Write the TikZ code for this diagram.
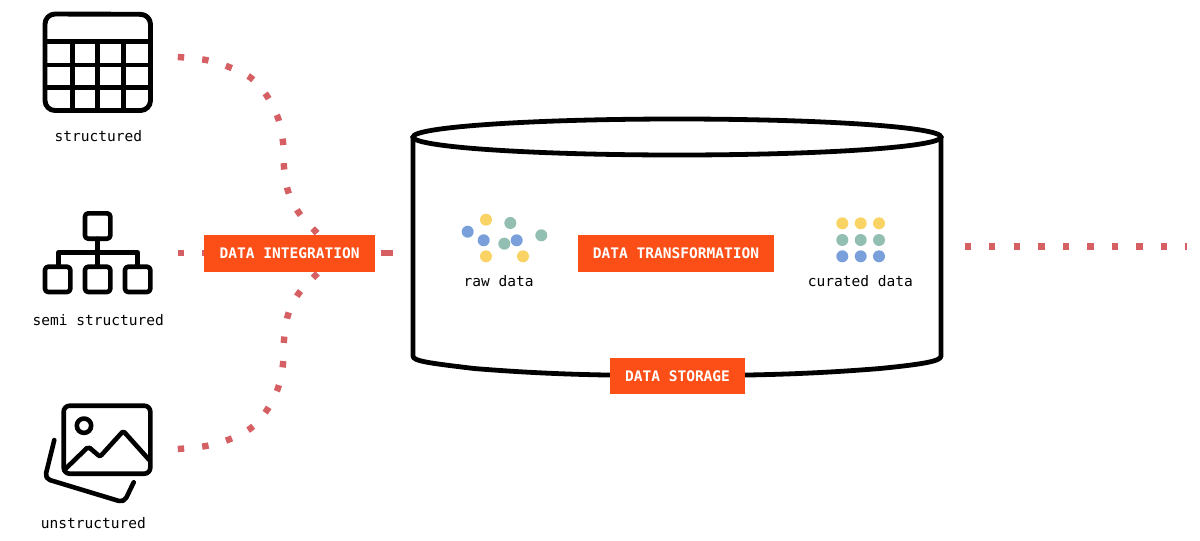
\documentclass[tikz,border=0pt]{standalone}
\usepackage{fontspec}
\setmainfont{DejaVu Sans Mono}
\definecolor{orangebox}{HTML}{FC4F17}
\definecolor{dotred}{HTML}{D65F63}
\definecolor{dyellow}{HTML}{F9D465}
\definecolor{dgreen}{HTML}{93BFB2}
\definecolor{dblue}{HTML}{7AA0DB}
\tikzset{
  x=0.75pt,y=-0.75pt,
  px/.style={line width=#1*0.75pt},
  icon/.style={draw=black,px=4.6,line cap=round,line join=round},
  grid/.style={draw=black,px=4.6,line cap=butt},
  tablelabel/.style={font=\fontsize{10.9pt}{12pt}\selectfont,text=black,inner sep=0pt,anchor=center},
  tag/.style={fill=orangebox,text=white,font=\fontsize{10.9pt}{12pt}\selectfont\bfseries,inner sep=0pt,anchor=center,minimum height=27.4pt},
  dotline/.style={draw=dotred,px=6.4,dash pattern=on 4.8pt off 13.6pt},
  dy/.style={fill=dyellow,draw=none},
  dg/.style={fill=dgreen,draw=none},
  db/.style={fill=dblue,draw=none},
}
\begin{document}
\begin{tikzpicture}
\useasboundingbox (0,0) rectangle (1200,540);
\fill[white] (0,0) rectangle (1200,540);
% connector ends
\coordinate (s1) at (177.8,57);
\coordinate (s2) at (177.8,253);
\coordinate (s3) at (177.8,449);
\coordinate (hubT) at (318,234);
\coordinate (hubB) at (318,273);
\coordinate (hub) at (290,253);
\coordinate (hubR) at (381,253);
\coordinate (cyl) at (393,253);
\coordinate (out) at (964.5,246.3);
\coordinate (end) at (1187,246.3);
% connectors
\draw[dotline] plot[smooth,tension=0.6] coordinates {(s1) (206,60) (229,67) (251,78) (267,96) (278,118) (283,142) (284,167) (288,191) (299,213) (hubT)};
\draw[dotline] plot[smooth,tension=0.6] coordinates {(s3) (206,446) (229,439.5) (251,428) (267,410) (278,388) (283,364) (284,340) (288,315) (299,293) (hubB)};
\draw[dotline] (s2) -- (hub);
\draw[draw=dotred,px=6.4] (hubR) -- (cyl);
\draw[dotline] (out) -- (end);
% cylinder
\draw[black,px=4.8,line join=round] (413,137) -- (413,356) .. controls (413,361) and (428,363) .. (474,368.5) .. controls (554,375) and (614,375.5) .. (677,375.5) .. controls (740,375.5) and (800,375) .. (880,368.5) .. controls (925,364) and (941,361) .. (941,356) -- (941,137);
\draw[black,px=4.8] (677,137) ellipse [x radius=264,y radius=18];
% table icon
\draw[icon,px=4.9] (45,24) arc[start angle=180,end angle=270,radius=10] -- (140.5,14.3) arc[start angle=270,end angle=360,radius=10] -- (150.5,100.5) arc[start angle=0,end angle=90,radius=10] -- (55,110.5) arc[start angle=90,end angle=180,radius=10] -- cycle;
\draw[grid] (45,41.7) -- (150.5,41.7) (45,65) -- (150.5,65) (45,87.7) -- (150.5,87.7)
  (72.3,41.7) -- (72.3,110.5) (97.7,41.7) -- (97.7,110.5) (123.3,41.7) -- (123.3,110.5);
% hierarchy icon
\draw[icon,rounded corners=2.4pt] (85,213.3) rectangle (110.3,238.7);
\draw[icon,rounded corners=2.4pt] (45,266.7) rectangle (70.3,292);
\draw[icon,rounded corners=2.4pt] (85,266.7) rectangle (110.3,292);
\draw[icon,rounded corners=2.4pt] (125,266.7) rectangle (150.3,292);
\draw[icon] (97.7,238.7) -- (97.7,266.7) (58.3,266.7) -- (58.3,252.7) -- (137.7,252.7) -- (137.7,266.7);
% image icon
\draw[icon,rounded corners=4.5pt] (63.7,405.7) rectangle (150.3,473.7);
\draw[icon] (84,425.7) circle [radius=7.2];
\draw[icon,rounded corners=1.5pt] (64.3,470) -- (88.3,446.7) -- (100,456.7) -- (123.3,431) -- (149.3,460);
\draw[icon,rounded corners=4pt] (54.3,440) -- (44.8,478.5) -- (124,502.5) -- (133.7,482.3);
% data dots
\foreach \x/\y/\s in {486/219.7/dy,510.3/223/dg,467.7/231.7/db,483.7/240.3/db,504.3/243.7/dg,516.7/240.3/db,541.3/235.3/dg,486/256.3/dy,523/256.3/dy,
  842.3/223.3/dy,860.7/223.3/dy,879/223.3/dy,842.3/240/dg,860.7/240/dg,879/240/dg,842.3/256.3/db,860.7/256.3/db,879/256.3/db}
  \fill[\s] (\x,\y) circle [radius=6];
% labels
\node[tablelabel] (lstruct) at (98.3,136.5) {structured};
\node[tablelabel] (lsemi) at (98.3,320.5) {semi structured};
\node[tablelabel] (lunstruct) at (93.3,523) {unstructured};
\node[tablelabel] (lraw) at (498.7,281) {raw data};
\node[tablelabel] (lcur) at (860.3,281) {curated data};
% tags
\node[tag,minimum width=128.5pt] (integ) at (289.6,253.3) {DATA INTEGRATION};
\node[tag,minimum width=147.2pt] (transf) at (676.1,253.3) {DATA TRANSFORMATION};
\node[tag,minimum width=101.3pt] (storage) at (677.5,376) {DATA STORAGE};
\end{tikzpicture}
\end{document}
